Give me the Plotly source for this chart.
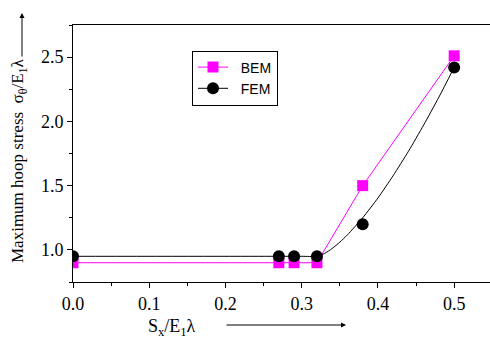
import plotly.graph_objects as go

# Data
bem_x = [0.0, 0.27, 0.29, 0.32, 0.38, 0.50]
bem_y = [0.90, 0.90, 0.90, 0.90, 1.50, 2.51]
fem_x = [0.0, 0.27, 0.29, 0.32, 0.38, 0.50]
fem_y = [0.95, 0.95, 0.95, 0.95, 1.20, 2.42]
# smooth fit curve drawn through the FEM data
fit_x = [0.0, 0.27, 0.30, 0.32, 0.33, 0.34, 0.35, 0.36, 0.38, 0.40, 0.42, 0.44, 0.46, 0.48, 0.50]
fit_y = [0.95, 0.95, 0.95, 0.95, 0.972, 1.011, 1.06, 1.117, 1.25, 1.404, 1.578, 1.767, 1.972, 2.189, 2.42]
x_ticks = [0.0, 0.1, 0.2, 0.3, 0.4, 0.5]
y_ticks = [1.0, 1.5, 2.0, 2.5]

W, H = 490, 338
L, R, T, B = 73, 0, 25, 56
PW, PH = W - L - R, H - T - B

fig = go.Figure()
fig.add_trace(go.Scatter(
    x=bem_x, y=bem_y, mode="lines+markers", name="&nbsp;&nbsp;BEM",
    line=dict(color="#FF00FF", width=1),
    marker=dict(symbol="square", size=11, color="#FF00FF"),
))
fig.add_trace(go.Scatter(
    x=fit_x, y=fit_y, mode="lines", showlegend=False,
    line=dict(color="black", width=1, shape="spline", smoothing=0.6),
    hoverinfo="skip",
))
fig.add_trace(go.Scatter(
    x=fem_x, y=fem_y, mode="markers", name="FEM",
    marker=dict(symbol="circle", size=12, color="black"),
    showlegend=False,
))
# legend entry for FEM (line + marker)
fig.add_trace(go.Scatter(
    x=[None], y=[None], mode="lines+markers", name="&nbsp;&nbsp;FEM",
    line=dict(color="black", width=1),
    marker=dict(symbol="circle", size=12, color="black"),
))

axis_font = dict(family="Liberation Serif, Times New Roman, serif", size=18, color="black")

fig.update_layout(
    width=W, height=H,
    margin=dict(l=L, r=R, t=T, b=B),
    plot_bgcolor="white", paper_bgcolor="white",
    showlegend=True,
    legend=dict(
        x=(192 - L) / PW, y=(H - B - 78) / PH,
        xanchor="left", yanchor="middle",
        bordercolor="black", borderwidth=1, bgcolor="white",
        font=dict(family="Liberation Sans, Arial, sans-serif", size=14, color="black"),
        tracegroupgap=0, itemwidth=30,
    ),
    xaxis=dict(
        range=[0, 0.547], tickvals=x_ticks, ticktext=[f"{v:.1f}" for v in x_ticks],
        ticks="outside", ticklen=5, tickwidth=1, tickcolor="black",
        minor=dict(dtick=0.05, tick0=0, ticks="outside", ticklen=3, tickcolor="black", tickwidth=1),
        showline=True, linecolor="black", linewidth=1, mirror=True,
        showgrid=False, zeroline=False, tickfont=axis_font,
    ),
    yaxis=dict(
        range=[0.75, 2.75], tickvals=y_ticks, ticktext=[f"{v:.1f}" for v in y_ticks],
        ticks="outside", ticklen=5, tickwidth=1, tickcolor="black",
        minor=dict(dtick=0.25, tick0=0.75, ticks="outside", ticklen=3, tickcolor="black", tickwidth=1),
        showline=True, linecolor="black", linewidth=1,
        showgrid=False, zeroline=False, tickfont=axis_font,
    ),
)

title_font = dict(family="Liberation Serif, Times New Roman, serif", size=17, color="black")

# Y title
fig.add_annotation(
    xref="paper", yref="paper", x=-(L - 19) / PW, y=(H - B - 161) / PH,
    text="Maximum hoop stress  σ<sub>θ</sub>/E<sub>1</sub>λ", textangle=-90,
    showarrow=False, font=title_font, xanchor="center", yanchor="middle",
)
# Y arrow
fig.add_annotation(
    xref="paper", yref="paper", x=-(L - 22) / PW, y=(H - B - 13) / PH,
    ax=0, ay=45, text="", showarrow=True, arrowhead=2, arrowsize=1, arrowwidth=1,
    arrowcolor="black",
)
# X title
fig.add_annotation(
    xref="paper", yref="paper", x=(172 - L) / PW, y=-(327 - (H - B)) / PH,
    text="S<sub>x</sub>/E<sub>1</sub>λ", showarrow=False,
    font=dict(family="Liberation Serif, Times New Roman, serif", size=18, color="black"),
    xanchor="center", yanchor="middle",
)
# X arrow
fig.add_annotation(
    xref="paper", yref="paper", x=(346 - L) / PW, y=-(325 - (H - B)) / PH,
    ax=-121, ay=0, text="", showarrow=True, arrowhead=2, arrowsize=1, arrowwidth=1,
    arrowcolor="black",
)

fig.write_html("out.html", config={"displayModeBar": False},
               post_script="document.body.style.margin='0';")
